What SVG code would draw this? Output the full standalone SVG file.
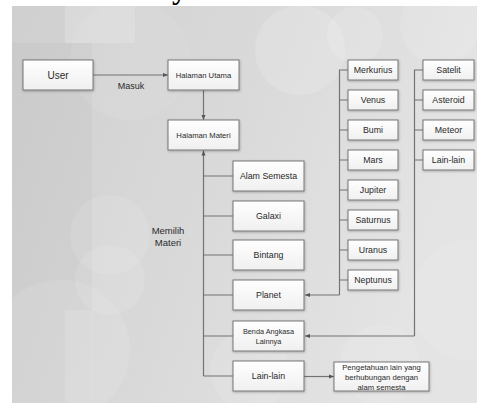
<svg xmlns="http://www.w3.org/2000/svg" width="477" height="412" viewBox="0 0 477 412">
<style>
  .box { fill: url(#boxg); stroke: #777; stroke-width: 1; filter: url(#sh); }
  .t { font-family: "Liberation Sans", Arial, sans-serif; fill: #2a2a2a; text-anchor: middle; dominant-baseline: central; }
  .ln { fill: none; stroke: #737373; stroke-width: 1.2; }
</style>
<defs>
  <linearGradient id="bg" x1="0" y1="0" x2="1" y2="0.3">
    <stop offset="0" stop-color="#cfcfcf"/>
    <stop offset="0.5" stop-color="#d9d9d9"/>
    <stop offset="1" stop-color="#e4e4e4"/>
  </linearGradient>
  <linearGradient id="boxg" x1="0" y1="0" x2="0" y2="1">
    <stop offset="0" stop-color="#ffffff"/>
    <stop offset="1" stop-color="#f0f0f0"/>
  </linearGradient>
  <filter id="sh" x="-10%" y="-10%" width="130%" height="140%">
    <feDropShadow dx="0.6" dy="1" stdDeviation="0.8" flood-color="#000" flood-opacity="0.25"/>
  </filter>
  <marker id="ah" viewBox="0 0 10 10" refX="10" refY="5" markerWidth="5" markerHeight="5" orient="auto" markerUnits="userSpaceOnUse">
    <path d="M0,1 L10,5 L0,9 z" fill="#555"/>
  </marker>
</defs>

<text x="172" y="-1" font-family="Liberation Serif, serif" font-weight="bold" font-size="30" fill="#000">y</text>

<g id="background">
  <rect x="12" y="6" width="465" height="397" fill="url(#bg)"/>
  <rect x="65" y="6" width="70" height="37" fill="#fff" opacity="0.18"/>
  <rect x="12" y="43" width="80" height="360" fill="#000" opacity="0.02"/>
  <rect x="65" y="310" width="28" height="93" fill="#fff" opacity="0.12"/>
  <circle cx="130" cy="60" r="60" fill="#fff" opacity="0.07"/>
  <circle cx="110" cy="235" r="40" fill="#fff" opacity="0.10"/>
  <circle cx="60" cy="350" r="70" fill="#fff" opacity="0.10"/>
  <circle cx="110" cy="280" r="35" fill="#fff" opacity="0.10"/>
  <circle cx="300" cy="50" r="45" fill="#fff" opacity="0.14"/>
  <circle cx="355" cy="35" r="28" fill="#fff" opacity="0.14"/>
  <circle cx="440" cy="25" r="40" fill="#fff" opacity="0.12"/>
  <circle cx="250" cy="370" r="40" fill="#fff" opacity="0.10"/>
  <circle cx="380" cy="365" r="40" fill="#fff" opacity="0.10"/>
  <circle cx="470" cy="300" r="60" fill="#fff" opacity="0.10"/>
</g>

<g id="connectors">
  <line class="ln" x1="93" y1="75" x2="168" y2="75" marker-end="url(#ah)"/>
  <line class="ln" x1="203.5" y1="90" x2="203.5" y2="120" marker-end="url(#ah)"/>
  <line class="ln" x1="203.5" y1="376" x2="203.5" y2="150.5" marker-end="url(#ah)"/>
  <path class="ln" d="M203.5,176 H233 M203.5,216 H233 M203.5,255 H233 M203.5,295 H233 M203.5,336 H233 M203.5,376 H233"/>
  <line class="ln" x1="304" y1="376.5" x2="334" y2="376.5" marker-end="url(#ah)"/>
  <path class="ln" d="M348,70 H339.5 V295 M339.5,100 H348 M339.5,130 H348 M339.5,160 H348 M339.5,190 H348 M339.5,220 H348 M339.5,250 H348 M339.5,280 H348"/>
  <line class="ln" x1="339.5" y1="295" x2="305" y2="295" marker-end="url(#ah)"/>
  <path class="ln" d="M423,70 H414.5 V336 M414.5,100 H423 M414.5,130 H423 M414.5,160 H423"/>
  <line class="ln" x1="414.5" y1="336" x2="305" y2="336" marker-end="url(#ah)"/>
</g>

<text class="t" x="131" y="86" font-size="9">Masuk</text>
<text class="t" x="168" y="230" font-size="9.5">Memilih</text>
<text class="t" x="168" y="242" font-size="9.5">Materi</text>

<g id="user"><rect class="box" x="23" y="60" width="70" height="30"/><text class="t" x="58" y="75" font-size="10">User</text></g>
<g id="halaman-utama"><rect class="box" x="168" y="60" width="71" height="30"/><text class="t" x="203.5" y="75" font-size="7.7">Halaman Utama</text></g>
<g id="halaman-materi"><rect class="box" x="168" y="120" width="71" height="30"/><text class="t" x="203.5" y="135" font-size="7.7">Halaman Materi</text></g>

<g id="alam-semesta"><rect class="box" x="233" y="161" width="71" height="30"/><text class="t" x="268.5" y="176" font-size="8.8">Alam Semesta</text></g>
<g id="galaxi"><rect class="box" x="233" y="201" width="71" height="30"/><text class="t" x="268.5" y="216" font-size="8.8">Galaxi</text></g>
<g id="bintang"><rect class="box" x="233" y="240" width="71" height="30"/><text class="t" x="268.5" y="255" font-size="8.8">Bintang</text></g>
<g id="planet"><rect class="box" x="233" y="280" width="71" height="30"/><text class="t" x="268.5" y="295" font-size="8.8">Planet</text></g>
<g id="benda-angkasa"><rect class="box" x="233" y="321" width="71" height="30"/><text class="t" x="268.5" y="331" font-size="7.3">Benda Angkasa</text><text class="t" x="268.5" y="341" font-size="7.3">Lainnya</text></g>
<g id="lain-lain"><rect class="box" x="233" y="361" width="71" height="30"/><text class="t" x="268.5" y="376" font-size="8.8">Lain-lain</text></g>
<g id="pengetahuan"><rect class="box" x="334" y="362" width="95" height="29"/><text class="t" x="381.5" y="367" font-size="7.7">Pengetahuan lain yang</text><text class="t" x="381.5" y="377" font-size="7.7">berhubungan dengan</text><text class="t" x="381.5" y="387" font-size="7.7">alam semesta</text></g>

<g id="merkurius"><rect class="box" x="348" y="60" width="50" height="20"/><text class="t" x="373" y="70" font-size="8.8">Merkurius</text></g>
<g id="venus"><rect class="box" x="348" y="90" width="50" height="20"/><text class="t" x="373" y="100" font-size="8.8">Venus</text></g>
<g id="bumi"><rect class="box" x="348" y="120" width="50" height="20"/><text class="t" x="373" y="130" font-size="8.8">Bumi</text></g>
<g id="mars"><rect class="box" x="348" y="150" width="50" height="20"/><text class="t" x="373" y="160" font-size="8.8">Mars</text></g>
<g id="jupiter"><rect class="box" x="348" y="180" width="50" height="20"/><text class="t" x="373" y="190" font-size="8.8">Jupiter</text></g>
<g id="saturnus"><rect class="box" x="348" y="210" width="50" height="20"/><text class="t" x="373" y="220" font-size="8.8">Saturnus</text></g>
<g id="uranus"><rect class="box" x="348" y="240" width="50" height="20"/><text class="t" x="373" y="250" font-size="8.8">Uranus</text></g>
<g id="neptunus"><rect class="box" x="348" y="270" width="50" height="20"/><text class="t" x="373" y="280" font-size="8.8">Neptunus</text></g>

<g id="satelit"><rect class="box" x="423" y="60" width="51" height="20"/><text class="t" x="448.5" y="70" font-size="8.8">Satelit</text></g>
<g id="asteroid"><rect class="box" x="423" y="90" width="51" height="20"/><text class="t" x="448.5" y="100" font-size="8.8">Asteroid</text></g>
<g id="meteor"><rect class="box" x="423" y="120" width="51" height="20"/><text class="t" x="448.5" y="130" font-size="8.8">Meteor</text></g>
<g id="lain-lain-2"><rect class="box" x="423" y="150" width="51" height="20"/><text class="t" x="448.5" y="160" font-size="8.8">Lain-lain</text></g>
</svg>
